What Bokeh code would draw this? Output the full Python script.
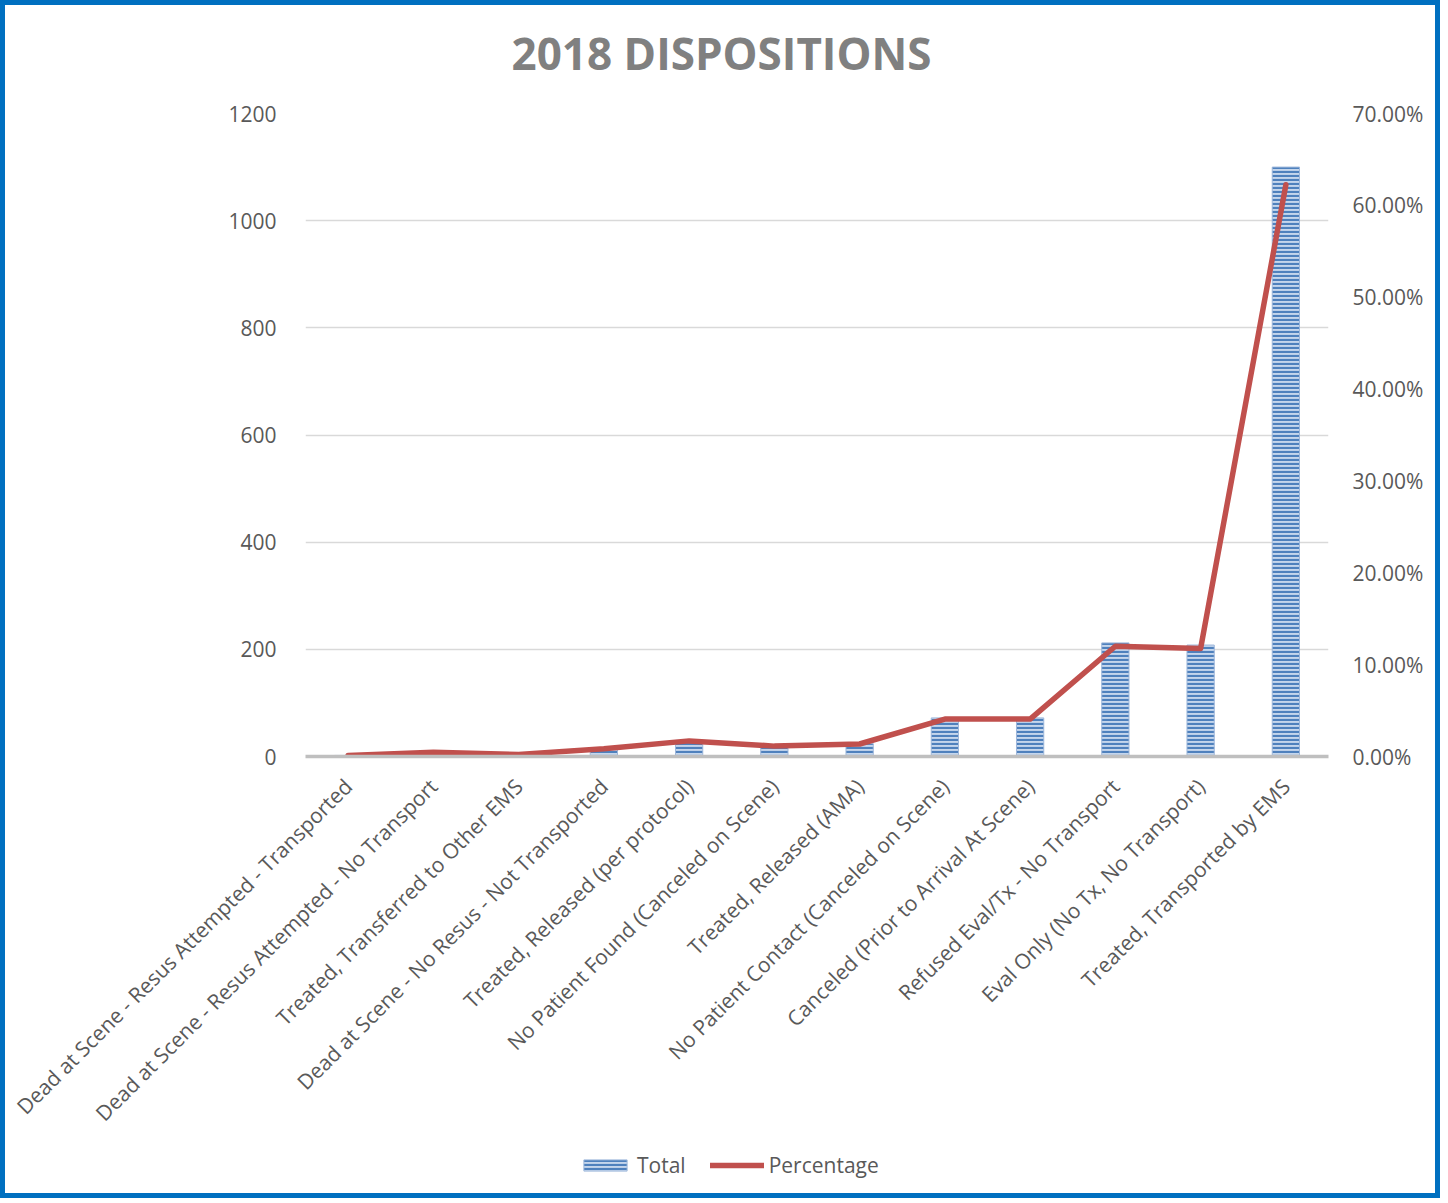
import math
from bokeh.plotting import figure
from bokeh.layouts import column
from bokeh.models import (ColumnDataSource, FactorRange, Range1d, LinearAxis,
                          FixedTicker, NumeralTickFormatter, Legend, LegendItem,
                          Title)
from bokeh.embed import file_html
from bokeh.resources import INLINE

categories = [
    "Dead at Scene - Resus Attempted - Transported",
    "Dead at Scene - Resus Attempted - No Transport",
    "Treated, Transferred to Other EMS",
    "Dead at Scene - No Resus - Not Transported",
    "Treated, Released (per protocol)",
    "No Patient Found (Canceled on Scene)",
    "Treated, Released (AMA)",
    "No Patient Contact (Canceled on Scene)",
    "Canceled (Prior to Arrival At Scene)",
    "Refused Eval/Tx - No Transport",
    "Eval Only (No Tx, No Transport)",
    "Treated, Transported by EMS",
]
totals = [2, 8, 4, 15, 30, 20, 24, 72, 72, 212, 208, 1100]
percentages = [0.0011, 0.0045, 0.0023, 0.0085, 0.017, 0.0113, 0.0136,
               0.0407, 0.0407, 0.12, 0.1177, 0.6225]
left_ticks = [0, 200, 400, 600, 800, 1000, 1200]
right_ticks = [0.0, 0.1, 0.2, 0.3, 0.4, 0.5, 0.6, 0.7]
legend_labels = ["Total", "Percentage"]
chart_title = "2018 DISPOSITIONS"

src = ColumnDataSource(dict(cat=categories, total=totals, pct=percentages))

FONT = "Open Sans"
TXT = "#595959"
BAR_STYLE = dict(fill_color="#C5D6EC", line_color="#9DB7DB", line_width=1,
                 hatch_pattern="horizontal_line", hatch_color="#4F81BD",
                 hatch_scale=4, hatch_weight=2.2)
LINE_STYLE = dict(line_color="#C0504D", line_width=5.5, line_join="round",
                  line_cap="round")


def blank_strip(height, top_border):
    f = figure(width=1430, height=height, output_backend="svg",
               toolbar_location=None, x_axis_type=None, y_axis_type=None,
               min_border_left=0, min_border_right=0,
               min_border_top=top_border, min_border_bottom=0,
               x_range=Range1d(0, 1), y_range=Range1d(0, 1))
    f.outline_line_color = None
    f.xgrid.grid_line_color = None
    f.ygrid.grid_line_color = None
    return f


# title strip
tf = blank_strip(88, 79)
t = Title(text=chart_title, align="left", offset=206, vertical_align="top",
          text_font=FONT, text_font_size="44px", text_font_style="bold",
          text_color="#808080", standoff=0)
tf.add_layout(t, "above")

p = figure(
    x_range=FactorRange(factors=categories, range_padding=0),
    y_range=Range1d(0, 1200),
    frame_width=1023, frame_height=643,
    output_backend="svg", toolbar_location=None,
    min_border_left=300, min_border_right=107,
    min_border_top=20, min_border_bottom=380,
)
p.extra_y_ranges = {"pct": Range1d(0, 0.7)}
p.outline_line_color = None
p.background_fill_color = "white"
p.border_fill_color = "white"

p.vbar(x="cat", top="total", width=0.32, source=src, **BAR_STYLE)
p.line(x="cat", y="pct", source=src, y_range_name="pct", **LINE_STYLE)

ya = p.yaxis[0]
ya.ticker = FixedTicker(ticks=left_ticks)
ya.axis_line_color = None
ya.major_tick_line_color = None
ya.minor_tick_line_color = None
ya.major_label_standoff = 23
ya.major_label_text_font = FONT
ya.major_label_text_font_size = "21px"
ya.major_label_text_color = TXT

ra = LinearAxis(y_range_name="pct", ticker=FixedTicker(ticks=right_ticks),
                formatter=NumeralTickFormatter(format="0.00%"))
ra.axis_line_color = None
ra.major_tick_line_color = None
ra.minor_tick_line_color = None
ra.major_label_standoff = 18
ra.major_label_text_font = FONT
ra.major_label_text_font_size = "21px"
ra.major_label_text_color = TXT
p.add_layout(ra, "right")

xa = p.xaxis[0]
xa.axis_line_color = "#BFBFBF"
xa.axis_line_width = 3.5
xa.major_tick_line_color = None
xa.minor_tick_line_color = None
xa.major_label_orientation = math.pi / 4
xa.major_label_standoff = 20
xa.major_label_text_font = FONT
xa.major_label_text_font_size = "21px"
xa.major_label_text_color = TXT

p.xgrid.grid_line_color = None
p.ygrid.grid_line_color = "#D9D9D9"
p.ygrid.grid_line_width = 1.5
p.ygrid.ticker = FixedTicker(ticks=left_ticks)

# legend strip below the chart (proxy glyphs with the series styles,
# placed outside the strip's visible range)
lg = blank_strip(54, 0)
proxy = ColumnDataSource(dict(x=[-10], top=[-10], y=[-10]))
r_bar = lg.vbar(x="x", top="top", width=0.3, source=proxy, **BAR_STYLE)
r_line = lg.line(x="x", y="y", source=proxy, **LINE_STYLE)

legend = Legend(items=[LegendItem(label=legend_labels[0], renderers=[r_bar]),
                       LegendItem(label=legend_labels[1], renderers=[r_line])],
                orientation="horizontal", location=(273, 14),
                label_text_font=FONT, label_text_font_size="21px",
                label_text_color=TXT, glyph_width=54, glyph_height=14,
                spacing=24, border_line_color=None, background_fill_alpha=0,
                label_standoff=5, padding=0, margin=0)
lg.add_layout(legend, "center")

layout = column(tf, p, lg, spacing=0,
                styles={"border": "5px solid #0070C0",
                        "box-sizing": "content-box"})

open("out.html", "w").write(file_html(layout, INLINE))
